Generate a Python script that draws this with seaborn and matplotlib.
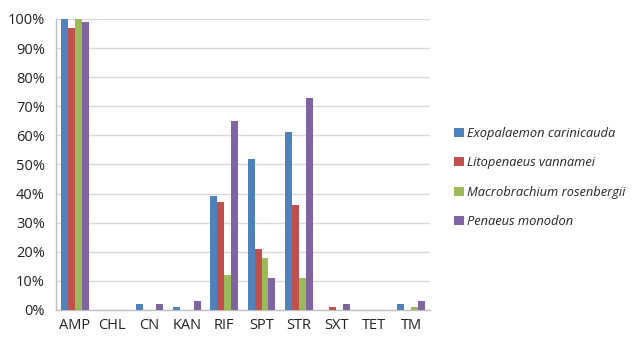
import numpy as np
import pandas as pd
import matplotlib
matplotlib.use("Agg")
import matplotlib.pyplot as plt
import seaborn as sns
from matplotlib.ticker import FuncFormatter, FixedLocator

antibiotics = ["AMP", "CHL", "CN", "KAN", "RIF", "SPT", "STR", "SXT", "TET", "TM"]
species = ["Exopalaemon carinicauda", "Litopenaeus vannamei",
           "Macrobrachium rosenbergii", "Penaeus monodon"]
exopalaemon = [100, 0, 2, 1, 39, 52, 61, 0, 0, 2]
litopenaeus = [97, 0, 0, 0, 37, 21, 36, 1, 0, 0]
macrobrachium = [100, 0, 0, 0, 12, 18, 11, 0, 0, 1]
penaeus = [99, 0, 2, 3, 65, 11, 73, 2, 0, 3]
colors = ["#4F81BD", "#C0504D", "#9BBB59", "#8064A2"]

rows = []
for sp, vals in zip(species, [exopalaemon, litopenaeus, macrobrachium, penaeus]):
    for ab, v in zip(antibiotics, vals):
        rows.append({"Antibiotic": ab, "Species": sp, "Resistance": v})
df = pd.DataFrame(rows)

sns.set_style("white")
plt.rcParams["font.family"] = ["Open Sans", "DejaVu Sans"]

fig = plt.figure(figsize=(6.4, 3.38), dpi=100)
ax = fig.add_axes([0.0875, 0.083, 0.584, 0.861])

sns.barplot(data=df, x="Antibiotic", y="Resistance", hue="Species",
            hue_order=species, order=antibiotics, palette=colors,
            width=0.74, saturation=1, errorbar=None, linewidth=0,
            ax=ax, zorder=3)

ax.set_ylim(0, 100)
ax.set_xlim(-0.5, len(antibiotics) - 0.5)
ax.set_yticks(np.arange(0, 101, 10))
ax.yaxis.set_major_formatter(FuncFormatter(lambda v, p: f"{int(v)}%"))
ax.grid(axis="y", color="#D9D9D9", linewidth=1, zorder=0)
ax.set_axisbelow(True)

for s in ["top", "right"]:
    ax.spines[s].set_visible(False)
for s in ["left", "bottom"]:
    ax.spines[s].set_color("#BFBFBF")
    ax.spines[s].set_linewidth(1)

ax.set_xlabel("")
ax.set_ylabel("")
ax.tick_params(axis="x", length=0, labelsize=10.5, pad=6, colors="#222222")
ax.tick_params(axis="y", length=5, labelsize=10.5, pad=3, colors="#222222")
ax.tick_params(axis="y", which="major", color="#BFBFBF")
ax.xaxis.set_minor_locator(FixedLocator(np.arange(-0.5, len(antibiotics), 1)))
ax.tick_params(axis="x", which="minor", length=5, color="#BFBFBF", direction="out")

leg = ax.legend(loc="center left", bbox_to_anchor=(1.035, 0.455), frameon=False,
                handlelength=0.7, handleheight=0.7, handletextpad=0.3,
                labelspacing=1.25, prop={"style": "italic", "size": 9.3})

fig.savefig("out.png", dpi=100)
